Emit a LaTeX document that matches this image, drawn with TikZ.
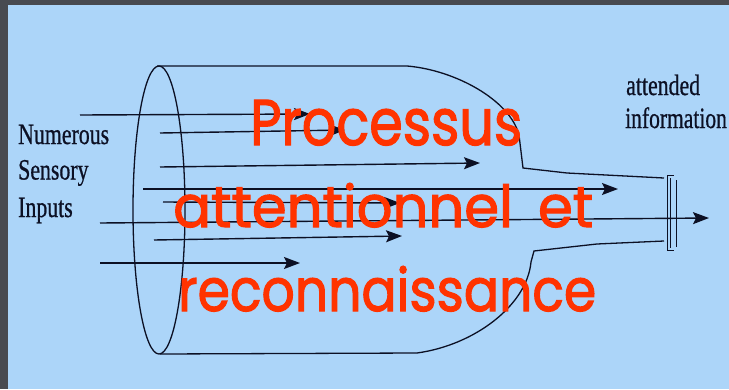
\documentclass[tikz,border=0pt]{standalone}
\usepackage{fontspec}
\setmainfont{Liberation Serif}
\newfontfamily\labelfont[FakeBold=0.8]{Liberation Serif}
\newfontfamily\handfont[FakeBold=2]{Poppins}
\usetikzlibrary{arrows.meta}
\definecolor{slate}{RGB}{72,74,80}
\definecolor{sky}{RGB}{172,213,249}
\definecolor{ink}{RGB}{12,16,36}
\definecolor{flame}{RGB}{255,51,0}

\begin{document}
\begin{tikzpicture}[x=1pt,y=-1pt,
  outline/.style={draw=ink,line width=1.3pt},
  capline/.style={draw=ink,line width=1pt},
  flow/.style={draw=ink,line width=1.4pt,-{Stealth[length=16pt,width=12pt,inset=3pt]}},
  tag/.style={inner sep=0pt,anchor=base west,text=ink,font=\labelfont\fontsize{29.5}{29.5}\selectfont},
  title/.style={inner sep=0pt,anchor=base west,text=flame}]

% frame and panel
\useasboundingbox (0,0) rectangle (729,389);
\fill[slate] (0,0) rectangle (729,389);
\fill[sky] (8,5) rectangle (729,389);

% the bottle: mouth, body and neck
\draw[outline] (159,210) ellipse [x radius=26pt, y radius=144pt];
\draw[outline] (157,66) -- (407,66)
  .. controls (455,70) and (510,100) .. (519,135)
  -- (523,168) -- (567,173) -- (664,178);
\draw[outline] (160,354) -- (417,353)
  .. controls (475,345) and (527,305) .. (531,262)
  -- (534,251) -- (597,244) -- (664,241);

% filter at the end of the neck
\draw[capline] (667,175) -- (674,175);
\draw[capline] (667,250) -- (674,250);
\draw[capline] (667,175) -- (667,250);
\draw[capline] (670,178) -- (670,248);
\draw[capline] (676,180) -- (676,247);

% inputs entering the bottle
\coordinate (s1) at (80,115);   \coordinate (e1) at (310,114);
\coordinate (s2) at (160,133);  \coordinate (e2) at (345,130);
\coordinate (s3) at (160,167);  \coordinate (e3) at (480,163);
\coordinate (s4) at (143,189);  \coordinate (e4) at (618,189);
\coordinate (s5) at (163,202);  \coordinate (e5) at (400,203);
\coordinate (s6) at (100,223);  \coordinate (e6) at (709,218);
\coordinate (s7) at (154,240);  \coordinate (e7) at (402,236);
\coordinate (s8) at (100,263);  \coordinate (e8) at (300,263);
\foreach \i in {1,...,8} \draw[flow] (s\i) -- (e\i);

% side labels
\node[tag] (num) at (18,144)   {\scalebox{0.74}[1]{Numerous}};
\node[tag] (sen) at (18,179.5) {\scalebox{0.74}[1]{Sensory}};
\node[tag] (inp) at (18,217)   {\scalebox{0.74}[1]{Inputs}};
\node[tag] (att) at (626,95)   {\scalebox{0.74}[1]{attended}};
\node[tag] (inf) at (625,128)  {\scalebox{0.73}[1]{information}};

% title over the drawing
\node[title] (t1) at (250,145) {\resizebox{272pt}{45pt}{\handfont Processus}};
\node[title] (t2) at (173,227) {\resizebox{420pt}{44pt}{\handfont attentionnel\hspace{0.45em}et}};
\node[title] (t3) at (178,311) {\resizebox{418pt}{45pt}{\handfont reconnaissance}};
\end{tikzpicture}
\end{document}
